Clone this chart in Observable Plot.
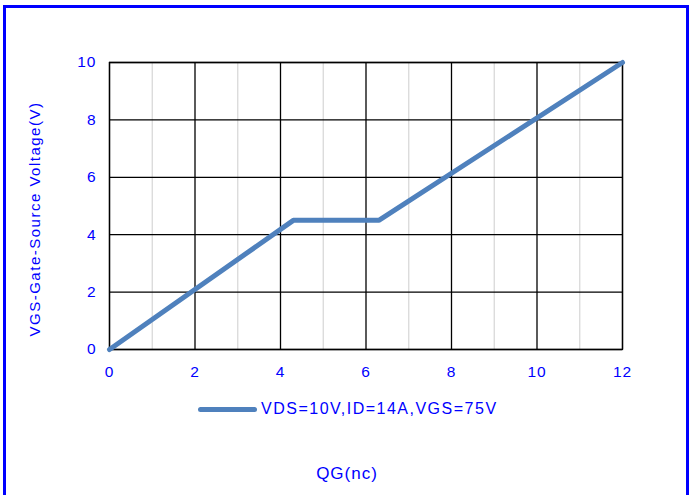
<!DOCTYPE html>
<html>
<head>
<meta charset="utf-8">
<script src="https://cdn.jsdelivr.net/npm/d3@7"></script>
<script src="https://cdn.jsdelivr.net/npm/@observablehq/plot@0.6"></script>
<style>
  html, body { margin: 0; padding: 0; background: #fff; }
  #wrap { position: relative; width: 694px; height: 495px; overflow: hidden; background: #fff;
          font-family: "Liberation Sans", Arial, sans-serif; color: #0000ff; }
  #border { position: absolute; left: 3px; top: 5px; width: 680px; height: 520px; border: 3px solid #0000ff; }
  #chart { position: absolute; left: 0; top: 0; }
  #chart svg text { letter-spacing: 1px; }
  #ytitle { position: absolute; left: 34px; top: 219px; transform: translate(-50%, -50%) rotate(-90deg);
            white-space: nowrap; font-size: 15px; letter-spacing: 1.5px; }
  #xtitle { position: absolute; left: 347px; top: 474px; transform: translate(-50%, -50%);
            white-space: nowrap; font-size: 17px; letter-spacing: 1px; }
  #legend { position: absolute; left: 198px; top: 400px; display: flex; align-items: center; white-space: nowrap;
            font-size: 16px; letter-spacing: 1.5px; }
  #legend .sw { width: 59px; height: 5px; border-radius: 3px; background: #4f81bd; margin-right: 4px; }
</style>
</head>
<body>
<div id="wrap">
  <div id="chart"></div>
  <div id="ytitle"></div>
  <div id="legend"><span class="sw"></span><span id="legtext"></span></div>
  <div id="xtitle"></div>
  <div id="border"></div>
</div>
<script>
// Data
const qg = [0, 4.3, 6.3, 12];
const vgs = [0, 4.5, 4.5, 10];
const xTicks = [0, 2, 4, 6, 8, 10, 12];
const xMinor = [1, 3, 5, 7, 9, 11];
const yTicks = [0, 2, 4, 6, 8, 10];
const seriesName = "VDS=10V,ID=14A,VGS=75V";
const xTitle = "QG(nc)";
const yTitle = "VGS-Gate-Source Voltage(V)";

document.getElementById("legtext").textContent = seriesName;
document.getElementById("xtitle").textContent = xTitle;
document.getElementById("ytitle").textContent = yTitle;

const data = qg.map((q, i) => ({q, v: vgs[i]}));

const chart = Plot.plot({
  width: 694,
  height: 495,
  marginLeft: 109,
  marginRight: 72,
  marginTop: 62,
  marginBottom: 146,
  style: {background: "transparent", fontFamily: "'Liberation Sans', Arial, sans-serif", fontSize: "15px", color: "#0000ff"},
  x: {domain: [0, 12]},
  y: {domain: [0, 10]},
  marks: [
    Plot.ruleX(xMinor, {stroke: "#d9d9d9", strokeWidth: 1.3}),
    Plot.ruleX(xTicks, {stroke: "#000", strokeWidth: 1.3}),
    Plot.ruleY(yTicks, {stroke: "#000", strokeWidth: 1.3}),
    Plot.frame({stroke: "#000", strokeWidth: 1.3}),
    Plot.axisX({ticks: xTicks, tickSize: 0, tickPadding: 16, label: null, fill: "#0000ff", fontSize: 15.5}),
    Plot.axisY({ticks: yTicks, tickSize: 0, tickPadding: 13, label: null, fill: "#0000ff", fontSize: 15.5}),
    Plot.line(data, {x: "q", y: "v", stroke: "#4f81bd", strokeWidth: 5, strokeLinejoin: "miter"})
  ]
});
document.getElementById("chart").appendChild(chart);
</script>
</body>
</html>
